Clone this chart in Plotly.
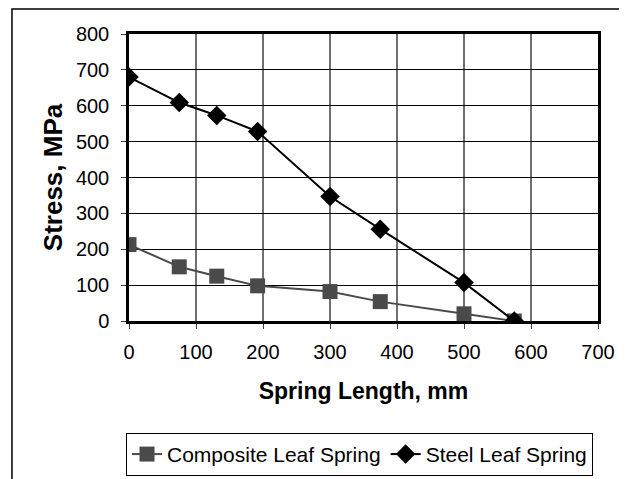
import plotly.graph_objects as go

# spring length positions (mm)
length_mm = [0, 75, 131, 192, 300, 375, 500, 575]
composite_stress = [213, 151, 125, 98, 82, 54, 20, 0]
steel_stress = [680, 609, 573, 528, 347, 256, 107, 0]

x_ticks = [0, 100, 200, 300, 400, 500, 600, 700]
y_ticks = [0, 100, 200, 300, 400, 500, 600, 700, 800]

FONT = "Liberation Sans, Arial, sans-serif"

fig = go.Figure()

fig.add_trace(go.Scatter(
    x=length_mm, y=composite_stress, name="Composite Leaf Spring",
    mode="lines+markers", line=dict(color="#4a4a4a", width=2),
    marker=dict(symbol="square", size=15, color="#4a4a4a"),
))
fig.add_trace(go.Scatter(
    x=length_mm, y=steel_stress, name="Steel Leaf Spring",
    mode="lines+markers", line=dict(color="black", width=2),
    marker=dict(symbol="diamond", size=15, color="black"),
))

# page body has an 8px margin, so the figure is drawn 8px smaller
fig.update_layout(
    width=619, height=471,
    margin=dict(l=121, r=29, t=26, b=158, autoexpand=False),
    plot_bgcolor="white", paper_bgcolor="white",
    font=dict(family=FONT, size=20, color="black"),
    legend=dict(
        orientation="h", x=0.4915, xanchor="center", y=-0.39, yanchor="top",
        bordercolor="black", borderwidth=1, font=dict(size=21),
        itemwidth=30,
    ),
    shapes=[
        dict(type="rect", xref="paper", yref="paper",
             x0=-0.2495, x1=1.0554, y0=-0.7, y1=1.087,
             line=dict(color="black", width=1.5), layer="below"),
    ],
)

fig.update_xaxes(
    range=[0, 700], tickvals=x_ticks, showgrid=True, gridcolor="#707070",
    gridwidth=1.5, zeroline=False, showline=True, linecolor="black",
    linewidth=2.5, mirror=True, ticks="outside", ticklen=5, tickcolor="#404040",
    ticklabelstandoff=6,
    title=dict(text="<b>Spring Length, mm</b>", standoff=22, font=dict(size=23)),
)
fig.update_yaxes(
    range=[0, 800], tickvals=y_ticks, showgrid=True, gridcolor="black",
    gridwidth=1, zeroline=False, showline=True, linecolor="black",
    linewidth=2.5, mirror=True, ticks="outside", ticklen=5, tickcolor="#404040",
    ticklabelstandoff=8,
    title=dict(text="<b>Stress, MPa</b>", standoff=6, font=dict(size=26)),
)

fig.write_html("out.html")
